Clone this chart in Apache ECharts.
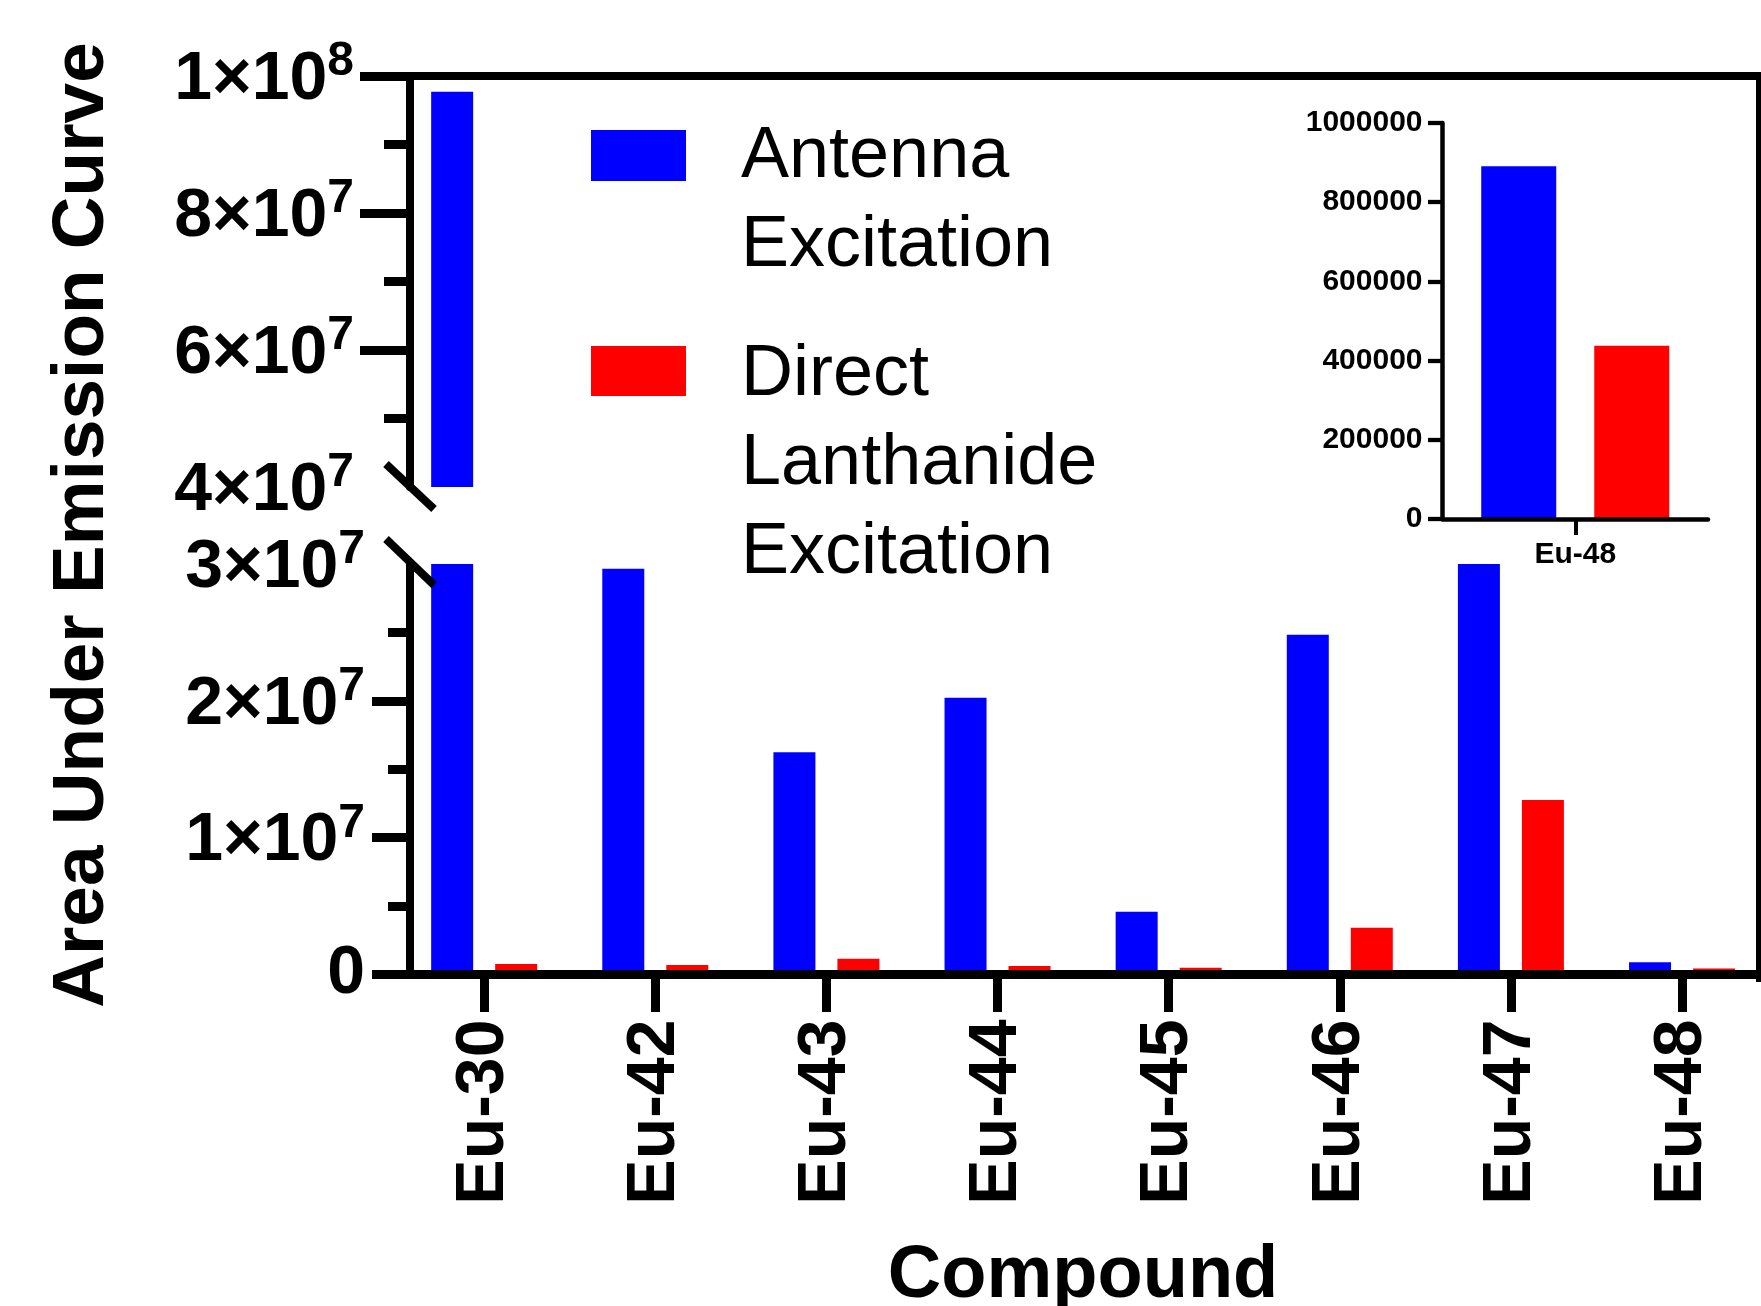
<!DOCTYPE html>
<html>
<head>
<meta charset="utf-8">
<script src="https://cdn.jsdelivr.net/npm/echarts@6.0.0/dist/echarts.min.js"></script>
<style>
html,body{margin:0;padding:0;background:#ffffff;}
#chart{width:1761px;height:1306px;}
</style>
</head>
<body>
<div id="chart"></div>
<script>
// ---------- data ----------
const categories = ['Eu-30', 'Eu-42', 'Eu-43', 'Eu-44', 'Eu-45', 'Eu-46', 'Eu-47', 'Eu-48'];
const antennaExcitation = [97700000, 29660000, 16240000, 20230000, 4590000, 24830000, 30000000, 891000];
const directExcitation = [770000, 690000, 1150000, 620000, 500000, 3420000, 12750000, 437600];
const legendLines = [['Antenna', 'Excitation'], ['Direct', 'Lanthanide', 'Excitation']];
const upperTickValues = [60000000, 80000000, 100000000];
const lowerTickValues = [0, 10000000, 20000000];
const insetCategories = ['Eu-48'];
const yTitle = 'Area Under Emission Curve';
const xTitle = 'Compound';

// ---------- styling ----------
const FONT = "'Liberation Sans', Arial, Helvetica, sans-serif";
const BLUE = '#0000ff';
const RED = '#ff0000';
const BLACK = '#000000';

const insetIndex = categories.indexOf(insetCategories[0]);
const insetAntenna = [antennaExcitation[insetIndex]];
const insetDirect = [directExcitation[insetIndex]];

function sciLabel(v) {
  if (v === 0) return '{z|0}';
  const e = Math.floor(Math.log10(v) + 1e-9);
  const m = Math.round(v / Math.pow(10, e));
  return '{a|' + m + '\u00d710}{s|' + e + '}';
}
const richY = {
  a: {fontFamily: FONT, fontSize: 68, fontWeight: 'bold', color: BLACK, lineHeight: 68},
  s: {fontFamily: FONT, fontSize: 48, fontWeight: 'bold', color: BLACK, lineHeight: 48, padding: [0, 0, 36, 0]},
  z: {fontFamily: FONT, fontSize: 68, fontWeight: 'bold', color: BLACK, lineHeight: 68, padding: [0, 0, 8, 0]}
};

const mainLeft = 398.6, mainWidth = 1369;

const chart = echarts.init(document.getElementById('chart'), null, {renderer: 'canvas'});

const legendFont = '72px ' + FONT;
function legendText(str, y) {
  return {type: 'text', z: 100, x: 741, y: y,
    style: {text: str, fill: BLACK, font: legendFont, textAlign: 'left', textVerticalAlign: 'middle'}};
}

const option = {
  backgroundColor: '#ffffff',
  animation: false,
  grid: [
    {left: mainLeft, width: mainWidth, top: 76, height: 411, outerBoundsMode: 'none', containLabel: false},
    {left: mainLeft, width: mainWidth, top: 564, height: 410.5, outerBoundsMode: 'none', containLabel: false},
    {left: 1442.5, width: 265.5, top: 123, height: 396, outerBoundsMode: 'none', containLabel: false}
  ],
  xAxis: [
    {
      gridIndex: 0, type: 'category', data: categories, position: 'top', z: 10,
      axisLine: {show: true, onZero: false, lineStyle: {color: BLACK, width: 8}},
      axisTick: {show: false}, axisLabel: {show: false}, splitLine: {show: false}
    },
    {
      gridIndex: 1, type: 'category', data: categories, position: 'bottom', z: 10,
      axisLine: {show: true, onZero: false, lineStyle: {color: BLACK, width: 9}},
      axisTick: {show: true, alignWithLabel: true, length: 37.5, lineStyle: {color: BLACK, width: 9}},
      axisLabel: {show: true, interval: 0, rotate: 90, margin: 45, color: BLACK,
        fontFamily: FONT, fontSize: 68, fontWeight: 'bold'},
      splitLine: {show: false},
      name: xTitle, nameLocation: 'middle', nameGap: 265,
      nameTextStyle: {color: BLACK, fontFamily: FONT, fontSize: 74, fontWeight: 'bold'}
    },
    {
      gridIndex: 2, type: 'category', data: insetCategories, position: 'bottom', z: 10,
      axisLine: {show: true, onZero: false, lineStyle: {color: BLACK, width: 4.5}},
      axisTick: {show: true, alignWithLabel: true, length: 16, lineStyle: {color: BLACK, width: 4}},
      axisLabel: {show: true, margin: 21, color: BLACK, fontFamily: FONT, fontSize: 30, fontWeight: 'bold'},
      splitLine: {show: false}
    }
  ],
  yAxis: [
    {
      gridIndex: 0, type: 'value', min: 40000000, max: 100000000, interval: 20000000, offset: -11.4, z: 10,
      axisLine: {show: true, onZero: false, lineStyle: {color: BLACK, width: 8}},
      axisTick: {show: true, length: 50, customValues: upperTickValues, lineStyle: {color: BLACK, width: 9}},
      minorTick: {show: true, splitNumber: 2, length: 26, lineStyle: {color: BLACK, width: 9}},
      axisLabel: {show: true, margin: 56, formatter: sciLabel, rich: richY, padding: [8, 0, 0, 0]},
      splitLine: {show: false}, minorSplitLine: {show: false}
    },
    {
      gridIndex: 1, type: 'value', min: 0, max: 30000000, interval: 10000000, offset: -11.4, z: 10,
      axisLine: {show: true, onZero: false, lineStyle: {color: BLACK, width: 8}},
      axisTick: {show: true, length: 38, customValues: lowerTickValues, lineStyle: {color: BLACK, width: 9}},
      minorTick: {show: true, splitNumber: 2, length: 22, lineStyle: {color: BLACK, width: 9}},
      axisLabel: {show: true, margin: 45, formatter: sciLabel, rich: richY, padding: [8, 0, 0, 0]},
      splitLine: {show: false}, minorSplitLine: {show: false}
    },
    {
      gridIndex: 2, type: 'value', min: 0, max: 1000000, interval: 200000, z: 10,
      axisLine: {show: true, onZero: false, lineStyle: {color: BLACK, width: 4.5}},
      axisTick: {show: true, length: 14.5, lineStyle: {color: BLACK, width: 4.3}},
      axisLabel: {show: true, margin: 20, color: BLACK, fontFamily: FONT, fontSize: 30, fontWeight: 'bold',
        formatter: function (v) { return String(v); }},
      splitLine: {show: false}
    }
  ],
  series: [
    {type: 'bar', name: legendLines[0].join(' '), xAxisIndex: 0, yAxisIndex: 0, data: antennaExcitation,
      barWidth: 42, barGap: '52.4%', itemStyle: {color: BLUE}, clip: true, z: 2},
    {type: 'bar', name: legendLines[1].join(' '), xAxisIndex: 0, yAxisIndex: 0, data: directExcitation,
      barWidth: 42, barGap: '52.4%', itemStyle: {color: RED}, clip: true, z: 2},
    {type: 'bar', name: legendLines[0].join(' '), xAxisIndex: 1, yAxisIndex: 1, data: antennaExcitation,
      barWidth: 42, barGap: '52.4%', itemStyle: {color: BLUE}, clip: true, z: 2},
    {type: 'bar', name: legendLines[1].join(' '), xAxisIndex: 1, yAxisIndex: 1, data: directExcitation,
      barWidth: 42, barGap: '52.4%', itemStyle: {color: RED}, clip: true, z: 2},
    {type: 'bar', name: legendLines[0].join(' '), xAxisIndex: 2, yAxisIndex: 2, data: insetAntenna,
      barWidth: 75, barGap: '50.7%', itemStyle: {color: BLUE}, clip: true, z: 2},
    {type: 'bar', name: legendLines[1].join(' '), xAxisIndex: 2, yAxisIndex: 2, data: insetDirect,
      barWidth: 75, barGap: '50.7%', itemStyle: {color: RED}, clip: true, z: 2}
  ],
  graphic: [
    // right frame border
    {type: 'rect', z: 100, shape: {x: 1756, y: 72, width: 5, height: 910}, style: {fill: BLACK}},
    // axis break marks
    {type: 'line', z: 100, shape: {x1: 386, y1: 464, x2: 434, y2: 509}, style: {stroke: BLACK, lineWidth: 8}},
    {type: 'line', z: 100, shape: {x1: 386, y1: 539, x2: 434, y2: 585}, style: {stroke: BLACK, lineWidth: 8}},
    // y axis title
    {type: 'text', z: 100, x: 83, y: 525, rotation: Math.PI / 2,
      style: {text: yTitle, fill: BLACK, font: 'bold 73px ' + FONT, textAlign: 'center', textVerticalAlign: 'middle'}},
    // legend
    {type: 'rect', z: 100, shape: {x: 591, y: 130, width: 95, height: 51}, style: {fill: BLUE}},
    {type: 'rect', z: 100, shape: {x: 591, y: 346, width: 95, height: 50}, style: {fill: RED}},
    legendText(legendLines[0][0], 157),
    legendText(legendLines[0][1], 246),
    legendText(legendLines[1][0], 375),
    legendText(legendLines[1][1], 464),
    legendText(legendLines[1][2], 553)
  ]
};
chart.setOption(option);
</script>
</body>
</html>
